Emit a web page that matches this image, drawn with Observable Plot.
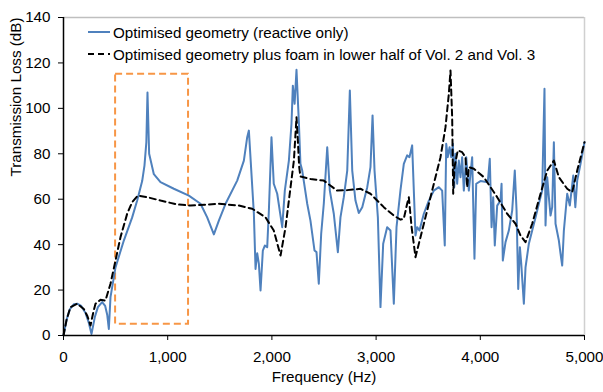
<!DOCTYPE html>
<html>
<head>
<meta charset="utf-8">
<script src="https://cdn.jsdelivr.net/npm/d3@7"></script>
<script src="https://cdn.jsdelivr.net/npm/@observablehq/plot@0.6"></script>
<style>
  body { margin: 0; background: #fff; }
  #wrap { position: relative; width: 603px; height: 392px; font-family: "Liberation Sans", Arial, sans-serif; }
  #legend { position: absolute; left: 88px; top: 21px; font-size: 15.2px; color: #000; }
  .row { display: flex; align-items: center; height: 22px; }
  .row svg { margin-right: 3px; }
</style>
</head>
<body>
<div id="wrap"><div id="legend"></div></div>
<script>
const freqBlue = [0,30,60,100,131,170,210,240,269,300,330,371,400,420,435,451,499,579,659,707,755,777,795,806,822,867,931,1059,1203,1315,1379,1443,1491,1555,1667,1731,1763,1779,1827,1843,1859,1875,1891,1913,1932,1955,1971,1996,2018,2051,2099,2124,2163,2188,2201,2218,2236,2258,2274,2291,2339,2370,2409,2428,2450,2473,2498,2531,2556,2594,2633,2658,2690,2723,2748,2771,2802,2834,2867,2915,2946,2966,2985,3017,3042,3068,3106,3138,3170,3196,3234,3266,3298,3320,3346,3378,3394,3416,3458,3506,3554,3602,3634,3659,3673,3688,3705,3721,3737,3750,3762,3778,3794,3810,3826,3842,3865,3890,3922,3944,3961,4002,4072,4091,4108,4124,4139,4162,4194,4204,4216,4242,4274,4306,4331,4348,4364,4380,4393,4418,4434,4466,4498,4530,4562,4594,4616,4626,4642,4658,4674,4690,4706,4722,4754,4770,4786,4802,4834,4859,4892,4912,4930,4962,5000];
const tlBlue = [0,7,11.5,13.8,14,13,10,6,0.7,8,12.5,14.7,13,9,2.9,16.9,30,41.8,52,59.4,68,74.8,85,107,80,71,67.5,64.6,61.6,58,52,44.5,50.6,58,68.2,77,87.3,90.2,53.6,29.3,36.2,31.5,19.8,37.4,39.6,38.9,55,87.3,66.8,62.4,47.7,63.8,77,93.2,110,102,117,94.7,75.6,72.6,58,50.6,37.4,36.7,22.8,44.8,58,82.9,63.8,53.6,36.7,52,60.9,72.6,107.9,72.6,59.4,53.9,56.5,65.3,74.1,96.9,72.6,52,12.5,40.4,47.7,46.2,14,47.7,64,75.6,79.3,78.5,83.7,44,47.7,46.2,53.6,59.4,63.8,65.3,63.8,39.6,84.4,78.5,82.9,78.5,84.4,65.3,80,66.8,77,69.7,78.5,63.8,78.5,63.8,78.5,33.8,66.8,68,67.5,77.8,47.7,60.9,39.6,57.2,59.4,66.8,33,41.1,46.2,55,72.6,55,20.5,38.9,31.5,14,30,40.4,46.2,52,58,63.8,108.6,48.4,69.7,60.9,52.8,56.5,85.1,49.2,41.8,36,30.8,46.2,62.4,57.2,70.4,56.5,68.2,75.6,85.1];

const freqFoam = [0,30,67,131,195,230,259,285,307,355,403,451,499,547,611,659,713,803,931,1091,1219,1491,1683,1811,1939,2018,2083,2131,2179,2211,2236,2249,2262,2274,2370,2498,2626,2723,2850,2946,3074,3170,3234,3266,3298,3314,3340,3378,3426,3490,3554,3618,3666,3698,3714,3730,3740,3752,3784,3826,3858,3874,3890,3938,4034,4162,4258,4338,4386,4434,4498,4578,4642,4706,4754,4834,4882,4930,5000];
const tlFoam = [0,7,12.5,14,11.7,8.5,4.4,10,14,15.7,15.4,22.8,33,43.3,53.6,58.7,61.6,60.9,59.4,57.7,57.2,58,57.2,55.8,52,46.2,35.2,47.7,65.3,77,96.1,85.9,74.1,70,68.9,68.2,63.8,64,64.6,62.4,56.5,52.8,51,51.4,58,60.9,48,34.5,43.3,55,66.8,78.5,91.7,106.4,116.7,96.1,62.4,74.1,81.5,80.7,78.5,65.3,74.1,73.4,69.7,60.9,53.6,49.2,44,41.1,49.2,62.4,72.6,77,69.7,64.6,63.1,72.6,85.1];

const highlight = [{x1: 500, x2: 1200, y1: 5, y2: 115}];
const xTicks = [0, 1000, 2000, 3000, 4000, 5000];
const yTicks = [0, 20, 40, 60, 80, 100, 120, 140];
const seriesNames = ["Optimised geometry (reactive only)", "Optimised geometry plus foam in lower half of Vol. 2 and Vol. 3"];
const xTitle = "Frequency (Hz)";
const yTitle = "Transmission Loss (dB)";

const blue = "#4F81BD";
const orange = "#F79646";
const fs = 15.2;

const blueData = freqBlue.map((f, i) => ({f, tl: tlBlue[i]}));
const foamData = freqFoam.map((f, i) => ({f, tl: tlFoam[i]}));

const chart = Plot.plot({
  width: 603,
  height: 392,
  marginLeft: 63,
  marginRight: 19,
  marginTop: 17,
  marginBottom: 57,
  style: {fontFamily: "'Liberation Sans', Arial, sans-serif", fontSize: fs + "px", color: "#000", background: "#fff"},
  x: {domain: [0, 5000]},
  y: {domain: [0, 140]},
  marks: [
    Plot.ruleY([140], {stroke: "#bfbfbf", strokeWidth: 1.5}),
    Plot.ruleX([5000], {stroke: "#d0d0d0", strokeWidth: 1.5}),
    Plot.rect(highlight, {x1: "x1", x2: "x2", y1: "y1", y2: "y2", fill: "none", stroke: orange, strokeWidth: 2, strokeDasharray: "7,4"}),
    Plot.line(blueData, {x: "f", y: "tl", stroke: blue, strokeWidth: 2, strokeLinejoin: "round"}),
    Plot.line(foamData, {x: "f", y: "tl", stroke: "#000", strokeWidth: 2, strokeDasharray: "6,4", curve: "linear"}),
    Plot.ruleY([0], {stroke: "#000", strokeWidth: 1.5}),
    Plot.ruleX([0], {stroke: "#000", strokeWidth: 1.5}),
    Plot.axisX({ticks: xTicks, tickFormat: d3.format(","), tickSize: 5, tickPadding: 11, label: null, stroke: "#000", fontSize: fs}),
    Plot.axisY({ticks: yTicks, tickSize: 5, tickPadding: 8, label: null, stroke: "#000", fontSize: fs}),
    Plot.text([xTitle], {frameAnchor: "bottom", dy: 46, fontSize: fs, fill: "#000"}),
    Plot.text([yTitle], {frameAnchor: "left", dx: -47, rotate: -90, fontSize: fs, fill: "#000"})
  ]
});
document.getElementById("wrap").prepend(chart);

const legend = document.getElementById("legend");
const sw = [
  `<svg width="22" height="6"><line x1="0" y1="3" x2="22" y2="3" stroke="${blue}" stroke-width="2"/></svg>`,
  `<svg width="22" height="6"><line x1="0" y1="3" x2="22" y2="3" stroke="#000" stroke-width="2" stroke-dasharray="6,4"/></svg>`
];
seriesNames.forEach((name, i) => {
  const row = document.createElement("div");
  row.className = "row";
  row.innerHTML = sw[i] + `<span>${name}</span>`;
  legend.appendChild(row);
});
</script>
</body>
</html>
